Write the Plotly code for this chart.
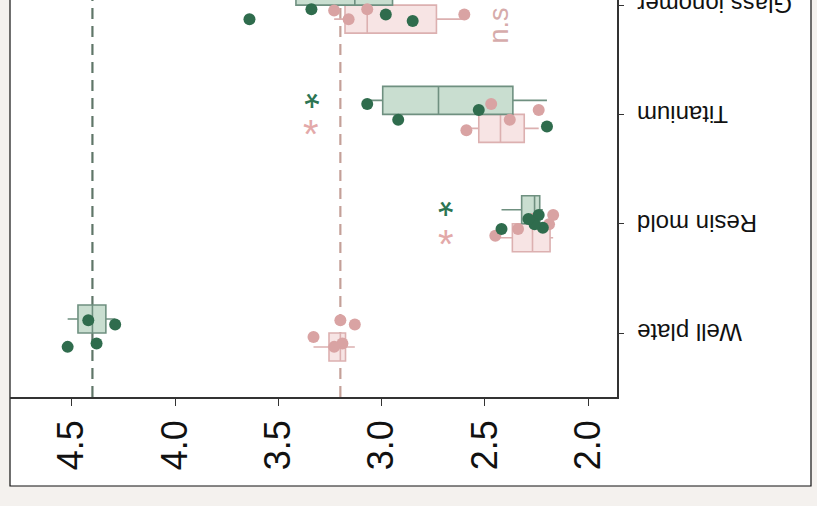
import numpy as np
import plotly.graph_objects as go

# ---------------- data ----------------
categories = ["Well plate", "Resin mold", "Titanium", "Glass ionomer"]

green_well = [4.52, 4.42, 4.38, 4.29]
green_resin = [2.42, 2.29, 2.26, 2.24, 2.22]
green_titanium = [3.07, 2.92, 2.53, 2.20]
green_glass = [3.64, 3.34, 3.13, 2.98, 2.85]

pink_well = [3.33, 3.23, 3.20, 3.19, 3.13]
pink_resin = [2.45, 2.34, 2.27, 2.19, 2.17]
pink_titanium = [2.59, 2.47, 2.38, 2.24]
pink_glass = [3.23, 3.16, 3.07, 2.78, 2.60]

x_ticks = [4.5, 4.0, 3.5, 3.0, 2.5, 2.0]

green_sig = ["", "*", "*", ""]
pink_sig = ["", "*", "*", "n.s"]
sig_x = [None, 2.69, 3.34, 2.43]

green_data = [green_well, green_resin, green_titanium, green_glass]
pink_data = [pink_well, pink_resin, pink_titanium, pink_glass]

# ---------------- styles ----------------
G_DOT = "#2f6c4d"
G_FILL = "#c9ded0"
G_LINE = "#6f9080"
G_STAR = "#2c7552"
P_DOT = "#d9a3a3"
P_FILL = "#f7e4e4"
P_LINE = "#dcb0b0"
P_STAR = "#e3a9a9"
FONT = "Liberation Sans, Arial, sans-serif"

LANE = 0.128
BOXW = 0.256

fig = go.Figure()


def flat(groups, offset):
    xs, ys = [], []
    for i, vals in enumerate(groups):
        xs += list(vals)
        ys += [i + offset] * len(vals)
    return xs, ys


# boxes
for groups, off, fill, line in [(pink_data, -LANE, P_FILL, P_LINE),
                                (green_data, LANE, G_FILL, G_LINE)]:
    xs, ys = flat(groups, off)
    fig.add_trace(go.Box(x=xs, y=ys, orientation="h", width=BOXW,
                         boxpoints=False, fillcolor=fill,
                         line=dict(color=line, width=1.6), whiskerwidth=0,
                         hoverinfo="skip", showlegend=False))

# points (jittered around category centre)
for groups, dot in [(pink_data, P_DOT), (green_data, G_DOT)]:
    xs, ys = flat(groups, 0)
    fig.add_trace(go.Box(x=xs, y=ys, orientation="h", width=0.30,
                         boxpoints="all", jitter=1, pointpos=0,
                         fillcolor="rgba(0,0,0,0)",
                         line=dict(color="rgba(0,0,0,0)", width=0),
                         marker=dict(color=dot, size=12),
                         hoverinfo="skip", showlegend=False))

# panel + reference lines at the well-plate medians
shapes = [
    dict(type="rect", xref="paper", yref="paper", x0=0, x1=1.3196,
         y0=-0.2242, y1=1.2, fillcolor="white",
         line=dict(color="#111", width=1.2), layer="below"),
    dict(type="line", xref="x", yref="paper", x0=float(np.median(green_well)),
         x1=float(np.median(green_well)), y0=0, y1=1,
         line=dict(color="#5f7668", width=2.2, dash="11px,7px"), layer="below"),
    dict(type="line", xref="x", yref="paper", x0=float(np.median(pink_well)),
         x1=float(np.median(pink_well)), y0=0, y1=1,
         line=dict(color="#c4a098", width=2.2, dash="11px,7px"), layer="below"),
]

annotations = []
# category labels (upside down, right of the axis)
for i, cat in enumerate(categories):
    annotations.append(dict(x=1.0297, y=i, xref="paper", yref="y", text=cat,
                            textangle=180, showarrow=False, xanchor="left",
                            yanchor="middle",
                            font=dict(family=FONT, size=24, color="#111")))
# significance marks
for i, cat in enumerate(categories):
    if green_sig[i]:
        annotations.append(dict(x=sig_x[i], y=i, xref="x", yref="y",
                                text=green_sig[i], textangle=180,
                                showarrow=False, yanchor="bottom", borderpad=0,
                                yshift=-2,
                                font=dict(family=FONT, size=40, color=G_STAR)))
    if pink_sig[i] == "*":
        annotations.append(dict(x=sig_x[i], y=i, xref="x", yref="y",
                                text=pink_sig[i], showarrow=False,
                                yanchor="top", borderpad=0, yshift=3,
                                font=dict(family=FONT, size=40, color=P_STAR)))
    elif pink_sig[i]:
        annotations.append(dict(x=sig_x[i], y=i - LANE, xref="x", yref="y",
                                text=pink_sig[i], showarrow=False, textangle=-90,
                                yshift=-6,
                                font=dict(family=FONT, size=27, color="#d6abab")))

fig.update_layout(
    width=817, height=506,
    margin=dict(l=10, r=200, t=0, b=109, autoexpand=False),
    paper_bgcolor="#f4f1ee", plot_bgcolor="white",
    boxmode="overlay",
    shapes=shapes, annotations=annotations,
    font=dict(family=FONT, color="#111"),
    xaxis=dict(range=[4.799, 1.861], tickvals=x_ticks,
               ticktext=[f"{v:.1f}" for v in x_ticks], tickangle=-90,
               tickfont=dict(size=36, family=FONT, color="#111"),
               showline=True, linecolor="#333", linewidth=1.6,
               ticks="outside", ticklen=7, tickcolor="#333",
               ticklabelstandoff=0,
               showgrid=False, zeroline=False, automargin=False),
    yaxis=dict(range=[-0.5855, 3.0466], side="right", tickvals=[0, 1, 2, 3],
               showticklabels=False,
               showline=True, linecolor="#333", linewidth=1.6,
               ticks="outside", ticklen=5, tickcolor="#333",
               showgrid=False, zeroline=False, automargin=False),
)

fig.write_html("out.html", config={"displayModeBar": False},
               post_script="document.body.style.margin='0px';")
